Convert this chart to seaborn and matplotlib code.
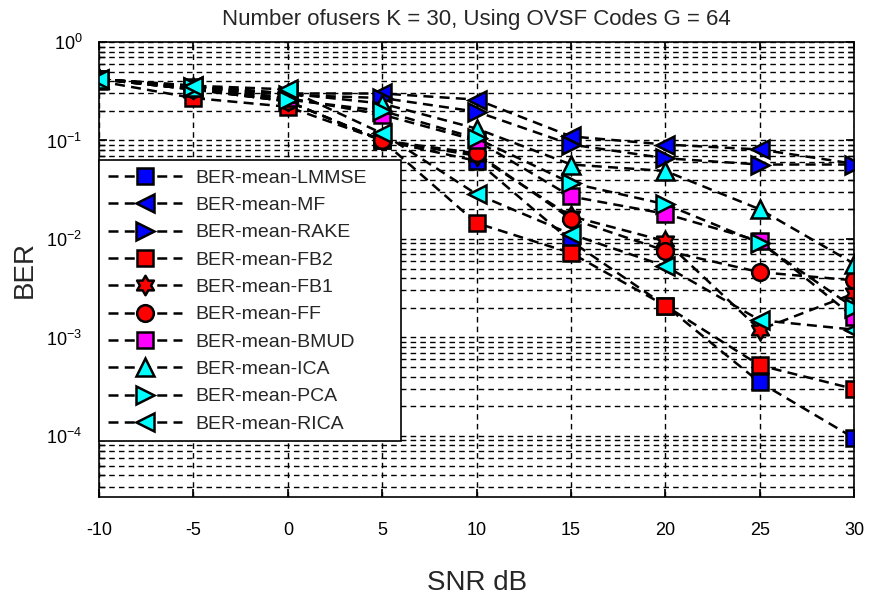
import numpy as np
import pandas as pd
import matplotlib
matplotlib.use("Agg")
import matplotlib.pyplot as plt
from matplotlib.path import Path
import seaborn as sns

snr = [-10, -5, 0, 5, 10, 15, 20, 25, 30]

ber_lmmse = [0.42, 0.33, 0.25, 0.10, 0.062, 0.0095, 0.0021, 0.00035, 0.000095]
ber_mf    = [0.42, 0.36, 0.30, 0.30, 0.26, 0.11, 0.091, 0.081, 0.058]
ber_rake  = [0.42, 0.35, 0.29, 0.27, 0.196, 0.091, 0.066, 0.057, 0.057]
ber_fb2   = [0.40, 0.27, 0.22, 0.10, 0.0145, 0.0072, 0.0021, 0.00052, 0.0003]
ber_fb1   = [0.42, 0.33, 0.25, 0.10, 0.070, 0.017, 0.0095, 0.0012, 0.0028]
ber_ff    = [0.42, 0.33, 0.25, 0.10, 0.074, 0.016, 0.0076, 0.0046, 0.0038]
ber_bmud  = [0.42, 0.35, 0.27, 0.183, 0.10, 0.027, 0.018, 0.0095, 0.0016]
ber_ica   = [0.42, 0.35, 0.30, 0.237, 0.132, 0.057, 0.049, 0.020, 0.0056]
ber_pca   = [0.42, 0.35, 0.26, 0.20, 0.105, 0.037, 0.0225, 0.0091, 0.0020]
ber_rica  = [0.42, 0.36, 0.33, 0.118, 0.0285, 0.0112, 0.0053, 0.0015, 0.0012]

labels = ["BER-mean-LMMSE", "BER-mean-MF", "BER-mean-RAKE", "BER-mean-FB2",
          "BER-mean-FB1", "BER-mean-FF", "BER-mean-BMUD", "BER-mean-ICA",
          "BER-mean-PCA", "BER-mean-RICA"]
series = [ber_lmmse, ber_mf, ber_rake, ber_fb2, ber_fb1, ber_ff, ber_bmud,
          ber_ica, ber_pca, ber_rica]

# six-pointed star (hexagram) marker
ang_out = np.deg2rad(90 + 60 * np.arange(6))
ang_in = ang_out + np.deg2rad(30)
verts = []
for ao, ai in zip(ang_out, ang_in):
    verts.append((np.cos(ao), np.sin(ao)))
    verts.append((0.577 * np.cos(ai), 0.577 * np.sin(ai)))
verts.append(verts[0])
hexagram = Path(verts, closed=True)

markers = ["s", "<", ">", "s", hexagram, "o", "s", "^", ">", "<"]
faces = ["#0000ff", "#0000ff", "#0000ff", "#ff0000", "#ff0000", "#ff0000",
         "#ff00ff", "#00ffff", "#00ffff", "#00ffff"]
msizes = [11, 13.5, 13.5, 11, 14, 12, 11, 13.5, 13.5, 13.5]

sns.set_theme(style="white")
plt.rcParams["font.family"] = ["Liberation Sans", "DejaVu Sans"]
plt.rcParams["mathtext.fontset"] = "custom"
plt.rcParams["mathtext.rm"] = "Liberation Sans"
plt.rcParams["mathtext.it"] = "Liberation Sans"

fig = plt.figure(figsize=(8.71, 6.06), dpi=100)
ax = fig.add_axes([0.1137, 0.1799, 0.867, 0.7508])
ax.set_yscale("log")

for lab, vals, mk, fc, ms in zip(labels, series, markers, faces, msizes):
    df = pd.DataFrame({"SNR": snr, "BER": vals})
    sns.lineplot(data=df, x="SNR", y="BER", ax=ax, color="black",
                 linestyle=(0, (4, 2.5)), linewidth=1.8, marker=mk,
                 markersize=ms, markerfacecolor=fc, markeredgecolor="black",
                 markeredgewidth=1.8, label=lab, legend=False)

ax.set_xlim(-10, 30)
ax.set_ylim(2.4e-5, 1)
ax.set_xticks(snr)
ax.set_xticklabels([str(s) for s in snr])

ax.grid(True, which="major", axis="x", color="black", linestyle=(0, (4, 3)), linewidth=1.0)
ax.grid(True, which="both", axis="y", color="black", linestyle=(0, (4, 3)), linewidth=1.0)
ax.set_axisbelow(True)

ax.tick_params(axis="both", which="both", direction="in", labelsize=13,
               colors="black", left=True, bottom=True, top=True, right=True)
ax.tick_params(axis="x", pad=18)
ax.tick_params(axis="y", pad=12)
for sp in ax.spines.values():
    sp.set_color("black")
    sp.set_linewidth(1.2)

ax.set_xlabel("SNR dB", fontsize=20, labelpad=22)
ax.set_ylabel("BER", fontsize=20, labelpad=6)
ax.set_title("Number ofusers K = 30, Using OVSF Codes G = 64", fontsize=16, pad=12)

leg = ax.legend(loc="upper left", bbox_to_anchor=(0.0, 0.64, 0.40, 0.1),
                mode="expand", fontsize=14, handlelength=3.8,
                handletextpad=0.7, labelspacing=0.5, borderpad=0.45,
                frameon=True, fancybox=False, edgecolor="black",
                framealpha=1.0, borderaxespad=0.0)
leg.get_frame().set_linewidth(1.2)

fig.savefig("out.png", dpi=100)
